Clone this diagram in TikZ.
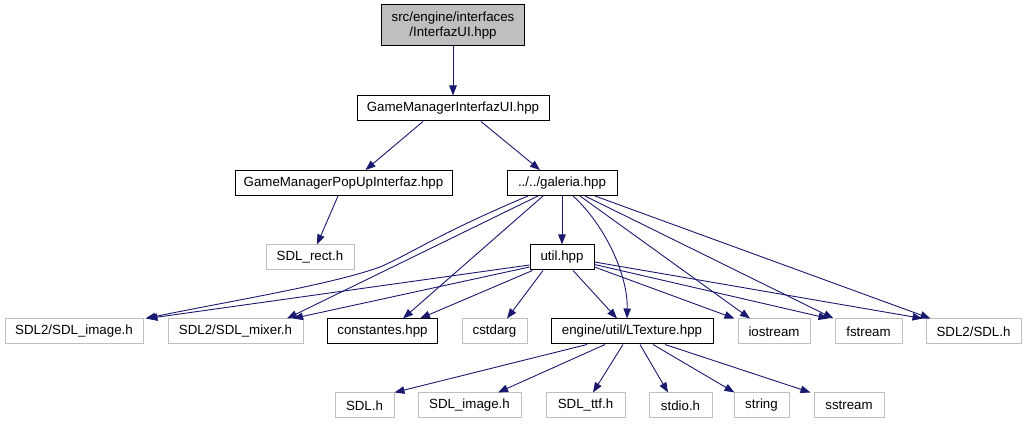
\documentclass[tikz,border=0pt]{standalone}
\usepackage{fontspec}
\setmainfont{Liberation Sans}
\usepackage{tikz}
\usetikzlibrary{arrows.meta}
\definecolor{edgeblue}{HTML}{191970}
\definecolor{boxgray}{HTML}{BFBFBF}

\begin{document}
\begin{tikzpicture}[x=1pt, y=1pt,
    file/.style={draw=black, line width=1pt, minimum height=25pt, inner sep=0pt, font=\fontsize{13.3}{15}\selectfont},
    ext/.style={file, draw=boxgray},
    edge/.style={draw=edgeblue, line width=0.9pt, -{Triangle[length=10pt, width=7.5pt]}}]
    \useasboundingbox (0,0) rectangle (1025,425);
    \node[file, fill=boxgray, minimum width=143pt, minimum height=41pt, align=center] (root) at (453,399.5) {src/engine/interfaces\\/InterfazUI.hpp};
    \node[file, minimum width=192pt] (gmui) at (453,316.5) {GameManagerInterfazUI.hpp};
    \node[file, minimum width=217pt] (popup) at (343.5,242) {GameManagerPopUpInterfaz.hpp};
    \node[file, minimum width=110pt] (galeria) at (562,242) {../../galeria.hpp};
    \node[ext, minimum width=88pt] (sdlrect) at (310,167.5) {SDL\_rect.h};
    \node[file, minimum width=64pt] (util) at (562,167.5) {util.hpp};
    \node[ext, minimum width=138pt] (sdlimg2) at (74,93.5) {SDL2/SDL\_image.h};
    \node[ext, minimum width=135pt] (sdlmix2) at (235.5,93.5) {SDL2/SDL\_mixer.h};
    \node[file, minimum width=110pt] (const) at (382.5,93.5) {constantes.hpp};
    \node[ext, minimum width=65pt] (cstdarg) at (494.5,93.5) {cstdarg};
    \node[file, minimum width=162pt] (ltex) at (632,93.5) {engine/util/LTexture.hpp};
    \node[ext, minimum width=72pt] (iostream) at (774,93.5) {iostream};
    \node[ext, minimum width=67pt] (fstream) at (868.5,93.5) {fstream};
    \node[ext, minimum width=95pt] (sdl2) at (973.5,93.5) {SDL2/SDL.h};
    \node[ext, minimum width=59pt] (sdlh) at (364.5,19.5) {SDL.h};
    \node[ext, minimum width=103pt] (sdlimg) at (469.5,19.5) {SDL\_image.h};
    \node[ext, minimum width=79pt] (sdlttf) at (585.5,19.5) {SDL\_ttf.h};
    \node[ext, minimum width=63pt] (stdio) at (680.5,19.5) {stdio.h};
    \node[ext, minimum width=55pt] (string) at (761.5,19.5) {string};
    \node[ext, minimum width=70pt] (sstream) at (849,19.5) {sstream};
    \draw[edge] (root) -- (gmui);
    \draw[edge] ([xshift=-30pt]gmui.south) -- ([xshift=22pt]popup.north);
    \draw[edge] ([xshift=28pt]gmui.south) -- ([xshift=-22pt]galeria.north);
    \draw[edge] ([xshift=-5.5pt]popup.south) -- ([xshift=7pt]sdlrect.north);
    \draw[edge] (galeria) -- (util);
    \draw[edge] ([xshift=-34pt]galeria.south) .. controls (440,192) and (412,172) .. (380,158) .. controls (330,140) and (230,124) .. ([xshift=2pt]sdlimg2.north east);
    \draw[edge] ([xshift=-24pt]galeria.south) -- ([xshift=51.5pt]sdlmix2.north);
    \draw[edge] ([xshift=-19pt]galeria.south) -- ([xshift=20.5pt]const.north);
    \draw[edge] ([xshift=11pt]galeria.south) .. controls (605,200) and (628,150) .. ([xshift=-5pt]ltex.north);
    \draw[edge] ([xshift=18pt]galeria.south) -- ([xshift=-24pt]iostream.north);
    \draw[edge] ([xshift=23pt]galeria.south) -- ([xshift=-35pt]fstream.north);
    \draw[edge] ([xshift=33pt]galeria.south) -- ([xshift=-43pt]sdl2.north);
    \draw[edge] ([yshift=-7.5pt]util.west) -- ([xshift=4pt]sdlimg2.north east);
    \draw[edge] ([yshift=-9.5pt]util.west) -- ([xshift=57.5pt]sdlmix2.north);
    \draw[edge] ([xshift=3pt]util.south west) -- ([xshift=37.5pt]const.north);
    \draw[edge] ([xshift=-19pt]util.south) -- ([xshift=12.5pt]cstdarg.north);
    \draw[edge] ([xshift=11pt]util.south) -- ([xshift=-15pt]ltex.north);
    \draw[edge] ([yshift=-9.5pt]util.east) -- ([xshift=-3pt]iostream.north west);
    \draw[edge] ([yshift=-7pt]util.east) -- ([xshift=-6pt]fstream.north west);
    \draw[edge] ([yshift=-4.5pt]util.east) -- ([xshift=-3pt]sdl2.north west);
    \draw[edge] ([xshift=-45pt]ltex.south) -- (sdlh.north east);
    \draw[edge] ([xshift=-27pt]ltex.south) -- ([xshift=28.5pt]sdlimg.north);
    \draw[edge] ([xshift=-9pt]ltex.south) -- ([xshift=7.5pt]sdlttf.north);
    \draw[edge] ([xshift=8pt]ltex.south) -- ([xshift=-12.5pt]stdio.north);
    \draw[edge] ([xshift=21pt]ltex.south) -- ([xshift=1pt]string.north west);
    \draw[edge] ([xshift=33pt]ltex.south) -- ([xshift=-3pt]sstream.north west);
\end{tikzpicture}
\end{document}
